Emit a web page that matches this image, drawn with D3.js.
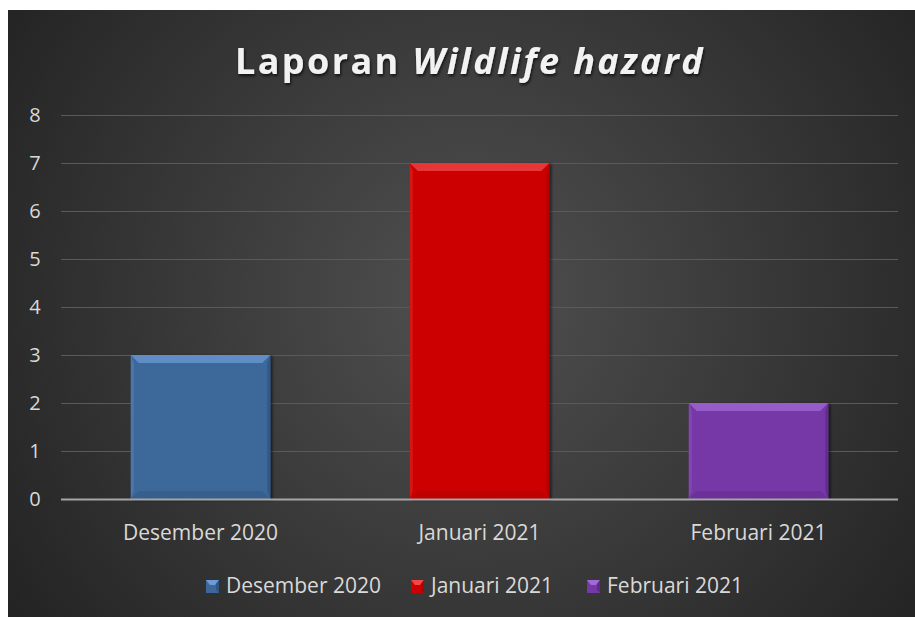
<!DOCTYPE html>
<html><head><meta charset="utf-8">
<script src="https://cdn.jsdelivr.net/npm/d3@7"></script>
<style>html,body{margin:0;padding:0;background:#fff;}svg{display:block;}</style>
</head><body>
<script>
const categories = ["Desember 2020", "Januari 2021", "Februari 2021"];
const values = [3, 7, 2];
const yTicks = [0, 1, 2, 3, 4, 5, 6, 7, 8];
const colors = ["#3d679a", "#cc0000", "#7638a6"];
const lightColors = ["#6e9ad6", "#f04848", "#a26ad6"];
const darkColors = ["#2f5582", "#b00000", "#5f2a8a"];

const W = 915, H = 617;
const svg = d3.select("body").append("svg").attr("width", W).attr("height", H);
const defs = svg.append("defs");
const rg = defs.append("radialGradient").attr("id", "bg").attr("gradientUnits", "userSpaceOnUse")
  .attr("cx", 470).attr("cy", 300).attr("r", 560);
rg.append("stop").attr("offset", "0").attr("stop-color", "#505050");
rg.append("stop").attr("offset", "1").attr("stop-color", "#232323");
const sh = defs.append("filter").attr("id", "sh").attr("x", "-20%").attr("y", "-20%").attr("width", "140%").attr("height", "140%");
sh.append("feDropShadow").attr("dx", 2).attr("dy", 1).attr("stdDeviation", 1.5).attr("flood-color", "#000").attr("flood-opacity", 0.6);
const tsh = defs.append("filter").attr("id", "tsh");
tsh.append("feDropShadow").attr("dx", 1).attr("dy", 2).attr("stdDeviation", 1.5).attr("flood-color", "#000").attr("flood-opacity", 0.7);

svg.append("rect").attr("x", 8).attr("y", 10).attr("width", W - 8).attr("height", H - 10).attr("fill", "url(#bg)");

const font = "'Open Sans', 'Noto Sans', sans-serif";
const title = svg.append("text").attr("x", 470).attr("y", 74).attr("text-anchor", "middle")
  .attr("font-family", font).attr("font-size", 36).attr("font-weight", "bold")
  .attr("letter-spacing", 2.4).attr("fill", "#f2f2f2").attr("filter", "url(#tsh)");
title.append("tspan").text("Laporan ");
title.append("tspan").attr("font-style", "italic").text("Wildlife hazard");

const x = d3.scaleBand().domain(categories).range([61, 898]).paddingInner(0.5).paddingOuter(0.25);
const y = d3.scaleLinear().domain([0, 8]).range([499, 115]);

svg.append("g").selectAll("line").data(yTicks.filter(d => d > 0)).join("line")
  .attr("x1", 61).attr("x2", 898).attr("y1", d => y(d) + 0.5).attr("y2", d => y(d) + 0.5)
  .attr("stroke", "#5a5a5a").attr("stroke-width", 1.2);

const yAxis = svg.append("g").attr("transform", "translate(46,0)")
  .call(d3.axisLeft(y).tickValues(yTicks).tickSize(0).tickPadding(0));
yAxis.select(".domain").remove();
yAxis.selectAll("text").attr("font-family", font).attr("font-size", 20).attr("fill", "#d9d9d9")
  .attr("x", -11).attr("text-anchor", "middle");

const bev = 8, side = 3;
const bars = svg.append("g").selectAll("g").data(categories).join("g");
bars.each(function(c, i) {
  const g = d3.select(this);
  const x0 = x(c), w = x.bandwidth(), y0 = y(values[i]), y1 = y(0), h = y1 - y0;
  g.append("rect").attr("x", x0).attr("y", y0).attr("width", w).attr("height", h)
    .attr("fill", colors[i]).attr("filter", "url(#sh)");
  g.append("path").attr("d", `M${x0},${y0}L${x0 + w},${y0}L${x0 + w - bev},${y0 + bev}L${x0 + bev},${y0 + bev}Z`)
    .attr("fill", lightColors[i]).attr("opacity", 0.75);
  g.append("path").attr("d", `M${x0},${y1}L${x0 + w},${y1}L${x0 + w - bev},${y1 - bev}L${x0 + bev},${y1 - bev}Z`)
    .attr("fill", darkColors[i]).attr("opacity", 0.5);
  g.append("path").attr("d", `M${x0},${y0}L${x0 + side},${y0 + bev}L${x0 + side},${y1 - bev}L${x0},${y1}Z`)
    .attr("fill", lightColors[i]).attr("opacity", 0.3);
  g.append("path").attr("d", `M${x0 + w},${y0}L${x0 + w - side},${y0 + bev}L${x0 + w - side},${y1 - bev}L${x0 + w},${y1}Z`)
    .attr("fill", darkColors[i]).attr("opacity", 0.8);
});

svg.append("line").attr("x1", 61).attr("x2", 898).attr("y1", y(0) + 0.5).attr("y2", y(0) + 0.5)
  .attr("stroke", "#a6a6a6").attr("stroke-width", 2);

const xAxis = svg.append("g").attr("transform", "translate(0,499)")
  .call(d3.axisBottom(x).tickSize(0).tickPadding(0));
xAxis.select(".domain").remove();
xAxis.selectAll("text").attr("font-family", font).attr("font-size", 21).attr("fill", "#d9d9d9")
  .attr("dy", null).attr("y", 41);

const legendX = [206, 411, 587];
const lg = svg.append("g").selectAll("g").data(categories).join("g")
  .attr("transform", (d, i) => `translate(${legendX[i]},580)`);
lg.each(function(c, i) {
  const g = d3.select(this);
  g.append("rect").attr("width", 13).attr("height", 13).attr("fill", colors[i]);
  g.append("path").attr("d", "M0,0L13,0L9,5L4,5Z").attr("fill", lightColors[i]);
  g.append("path").attr("d", "M13,0L13,13L10,10L10,4Z").attr("fill", darkColors[i]);
  g.append("text").attr("x", 20).attr("y", 13).attr("font-family", font).attr("font-size", 21)
    .attr("fill", "#d9d9d9").text(c);
});
</script>
</body></html>
